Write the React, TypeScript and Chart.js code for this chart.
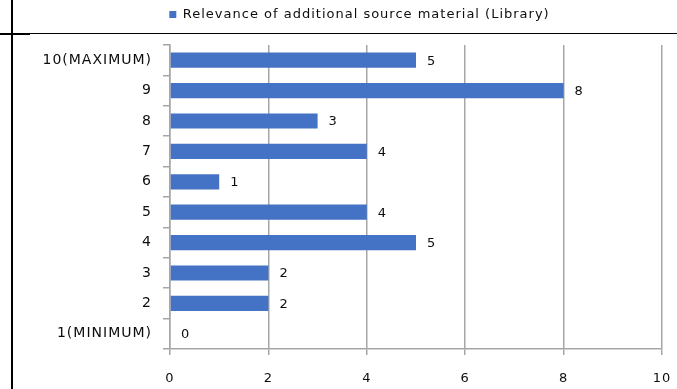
import { useEffect, useRef } from 'react';
import { Chart, registerables } from 'chart.js';

Chart.register(...registerables);

const categories = ['10(MAXIMUM)', '9', '8', '7', '6', '5', '4', '3', '2', '1(MINIMUM)'];
const values = [5, 8, 3, 4, 1, 4, 5, 2, 2, 0];
const seriesLabel = 'Relevance of additional source material (Library)';
const xMin = 0;
const xMax = 10;
const xStep = 2;

const FONT = '"DejaVu Sans", sans-serif';
const TEXT = '#0d0d0d';
const GRID = '#a6a6a6';
const BAR = '#4472C4';
const SPACING = '1px';

const letterSpacingPlugin = {
  id: 'letterSpacing',
  beforeUpdate(chart: any) {
    (chart.ctx as any).letterSpacing = SPACING;
  },
  beforeDraw(chart: any) {
    (chart.ctx as any).letterSpacing = SPACING;
  },
};

const valueLabels = {
  id: 'valueLabels',
  afterDatasetsDraw(chart: any) {
    const ctx = chart.ctx;
    const meta = chart.getDatasetMeta(0);
    const data = chart.data.datasets[0].data as number[];
    ctx.save();
    ctx.font = `13px ${FONT}`;
    ctx.fillStyle = TEXT;
    ctx.textAlign = 'left';
    ctx.textBaseline = 'middle';
    meta.data.forEach((bar: any, i: number) => {
      ctx.fillText(String(data[i]), bar.x + 11, bar.y + 1);
    });
    ctx.restore();
  },
};

export default function App() {
  const ref = useRef<HTMLCanvasElement>(null);
  useEffect(() => {
    if (!ref.current) return;
    const chart = new Chart(ref.current, {
      type: 'bar',
      data: {
        labels: categories,
        datasets: [
          {
            label: seriesLabel,
            data: values,
            backgroundColor: BAR,
            borderWidth: 0,
            categoryPercentage: 1,
            barPercentage: 0.5,
          },
        ],
      },
      options: {
        indexAxis: 'y',
        responsive: false,
        animation: false,
        devicePixelRatio: 1,
        layout: { padding: { left: 57, right: 15, top: 0, bottom: 0 } },
        plugins: {
          legend: {
            position: 'top',
            labels: {
              boxWidth: 7,
              boxHeight: 7,
              padding: 8,
              color: TEXT,
              font: { family: FONT, size: 13 },
            },
          },
          title: {
            display: true,
            text: '',
            weight: 500,
            padding: { top: 13, bottom: 0 },
            font: { size: 1, lineHeight: 1 },
          } as any,
          tooltip: { enabled: false },
        },
        scales: {
          x: {
            min: xMin,
            max: xMax,
            ticks: { stepSize: xStep, color: TEXT, font: { family: FONT, size: 13 }, padding: 16 },
            grid: { color: GRID, lineWidth: 1.5, tickLength: 6, drawTicks: true },
            border: { color: GRID, width: 1.5 },
            afterFit: (s: any) => {
              s.height = 40;
              s.paddingLeft = 0;
              s.paddingRight = 0;
            },
          },
          y: {
            ticks: { color: TEXT, font: { family: FONT, size: 14 }, padding: 11 },
            grid: { drawOnChartArea: false, offset: true, tickLength: 7, color: GRID, lineWidth: 1.5 },
            border: { color: GRID, width: 1.5 },
            afterFit: (s: any) => {
              s.width = 113;
              s._computeLabelArea = () => undefined;
            },
          },
        },
      },
      plugins: [letterSpacingPlugin, valueLabels],
    });
    return () => chart.destroy();
  }, []);

  return (
    <div style={{ position: 'fixed', left: 0, top: 0, width: 677, height: 389, background: '#fff' }}>
      <canvas ref={ref} width={677} height={389} style={{ display: 'block', position: 'absolute', left: 0, top: 0 }} />
      <div style={{ position: 'absolute', left: 0, top: 33, width: 677, height: 1, background: '#000' }} />
      <div style={{ position: 'absolute', left: 0, top: 33, width: 30, height: 2, background: '#000' }} />
      <div style={{ position: 'absolute', left: 11, top: 0, width: 2, height: 389, background: '#000' }} />
    </div>
  );
}
